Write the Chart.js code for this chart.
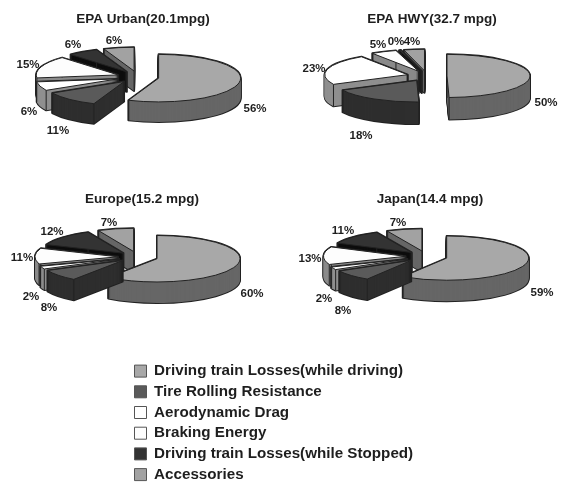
<!DOCTYPE html>
<html><head><meta charset="utf-8">
<script src="https://cdn.jsdelivr.net/npm/chart.js@4/dist/chart.umd.min.js"></script>
<style>
html,body{margin:0;padding:0;background:#fff;width:562px;height:482px;overflow:hidden}
body{position:relative}
canvas{position:absolute;filter:blur(0.45px)}
</style></head><body>
<script>
const categories = ['Driving train Losses(while driving)','Tire Rolling Resistance','Aerodynamic Drag','Braking Energy','Driving train Losses(while Stopped)','Accessories'];
const urbanValues  = [56,11,6,15,6,6];
const hwyValues    = [49.6,18,23,5,0.4,4];
const europeValues = [60,8,2,11,12,7];
const japanValues  = [59,8,2,13,11,7];
const topColors  = ['#a8a8a8','#5a5a5a','#ffffff','#fdfdfd','#333333','#a2a2a2'];
const sideColors = ['#666666','#2e2e2e','#8f8f8f','#8a8a8a','#0d0d0d','#666666'];
const edgeColor = '#222222', inkColor = '#1e1e1e';
const fontFamily = '"Liberation Sans", Arial, sans-serif';

const panels = [
 {title:'EPA Urban(20.1mpg)', values:urbanValues, box:[0,0,286,175], c:[138,77], r:82, k:0.29, ex:21, depth:20,
  labels:[[255,109],[58,131],[29,112],[28,65],[73,45],[114,41]]},
 {title:'EPA HWY(32.7 mpg)', values:hwyValues, box:[281,0,302,175], c:[427,76], r:83, k:0.26, ex:20, depth:22,
  labels:[[546,103],[361,136],[314,69],[378,45],[396,42],[412,42]]},
 {title:'Europe(15.2 mpg)', values:europeValues, box:[0,180,284,150], c:[138,257], r:83, k:0.28, ex:20, depth:21,
  labels:[[252,294],[49,308],[31,297],[22,258],[52,232],[109,223]]},
 {title:'Japan(14.4 mpg)', values:japanValues, box:[281,180,298,150], c:[426.5,256.5], r:82, k:0.27, ex:21, depth:21,
  labels:[[542,293],[343,311],[324,299],[310,259],[343,231],[398,223]]}
];

function addCanvas(l,t,w,h){
  const cv=document.createElement('canvas');
  cv.style.left=l+'px';cv.style.top=t+'px';cv.style.width=w+'px';cv.style.height=h+'px';
  cv.width=w;cv.height=h;document.body.appendChild(cv);return cv;
}

const pie3d = {
  id:'pie3d',
  beforeDatasetsDraw(chart,args,o){
    const ctx=chart.ctx, arcs=chart.getDatasetMeta(0).data;
    const cx=o.c[0]-o.box[0], cy=o.c[1]-o.box[1];
    const items=arcs.map((arc,i)=>{
      const mid=(arc.startAngle+arc.endAngle)/2;
      return {arc,i,mid,tx:cx+Math.cos(mid)*o.ex, ty:cy+Math.sin(mid)*o.ex*o.k};
    }).sort((a,b)=>Math.sin(a.mid)-Math.sin(b.mid));
    const paint=(it,d,fill)=>{
      const a=it.arc, saved=a.options;
      a.options=Object.assign({},saved,{backgroundColor:fill,borderWidth:0,offset:0,spacing:0});
      ctx.save();ctx.translate(it.tx,it.ty+d);ctx.scale(1,o.k);ctx.translate(-a.x,-a.y);
      a.draw(ctx);ctx.restore();
      a.options=saved;
    };
    const outline=(it,d,lw)=>{
      const a=it.arc;
      ctx.save();ctx.strokeStyle=edgeColor;ctx.lineWidth=lw;ctx.lineJoin='round';
      ctx.beginPath();ctx.moveTo(it.tx,it.ty+d);
      ctx.ellipse(it.tx,it.ty+d,o.r,o.r*o.k,0,a.startAngle,a.endAngle);
      ctx.closePath();ctx.stroke();ctx.restore();
    };
    items.forEach(it=>{
      const a=it.arc;
      for(let d=o.depth;d>=0;d--) outline(it,d,2);
      for(let d=o.depth;d>=1;d--) paint(it,d,sideColors[it.i]);
      ctx.save();ctx.strokeStyle=edgeColor;ctx.lineWidth=1;ctx.beginPath();
      [[it.tx,it.ty],
       [it.tx+Math.cos(a.startAngle)*o.r,it.ty+Math.sin(a.startAngle)*o.r*o.k],
       [it.tx+Math.cos(a.endAngle)*o.r,it.ty+Math.sin(a.endAngle)*o.r*o.k]].forEach(p=>{
        ctx.moveTo(p[0],p[1]);ctx.lineTo(p[0],p[1]+o.depth);
      });
      ctx.stroke();ctx.restore();
      paint(it,0,topColors[it.i]);
      outline(it,0,1);
    });
    return false;
  },
  afterDraw(chart,args,o){
    const ctx=chart.ctx, vals=chart.data.datasets[0].data;
    ctx.save();ctx.fillStyle=inkColor;ctx.font='bold 11.5px '+fontFamily;
    ctx.textAlign='center';ctx.textBaseline='middle';
    vals.forEach((v,i)=>{
      ctx.fillText(Math.round(v)+'%',o.labels[i][0]-o.box[0],o.labels[i][1]-o.box[1]);
    });
    ctx.restore();
  }
};

panels.forEach(p=>{
  const cv=addCanvas(p.box[0],p.box[1],p.box[2],p.box[3]);
  new Chart(cv,{
    type:'pie',
    data:{labels:categories,datasets:[{data:p.values,backgroundColor:topColors,borderWidth:0}]},
    options:{
      responsive:false,animation:false,radius:p.r,
      plugins:{
        legend:{display:false},tooltip:{enabled:false},
        title:{display:true,text:p.title,color:inkColor,font:{family:fontFamily,size:13.5,weight:'bold'},padding:{top:11,bottom:4}},
        pie3d:{box:p.box,c:p.c,r:p.r,k:p.k,ex:p.ex,depth:p.depth,labels:p.labels}
      }
    },
    plugins:[pie3d]
  });
});

const legendCanvas=addCanvas(129,358,570,150);
new Chart(legendCanvas,{
  type:'pie',
  data:{labels:categories,datasets:[{data:urbanValues,backgroundColor:topColors,borderColor:'#555555',borderWidth:1}]},
  options:{
    responsive:false,animation:false,
    plugins:{
      tooltip:{enabled:false},
      legend:{display:true,position:'left',align:'start',
        labels:{color:inkColor,boxWidth:12,boxHeight:12,padding:5.5,font:{family:fontFamily,size:15.2,weight:'bold'}}}
    }
  },
  plugins:[{id:'legendOnly',beforeDatasetsDraw(){return false;}}]
});
</script>
</body></html>
